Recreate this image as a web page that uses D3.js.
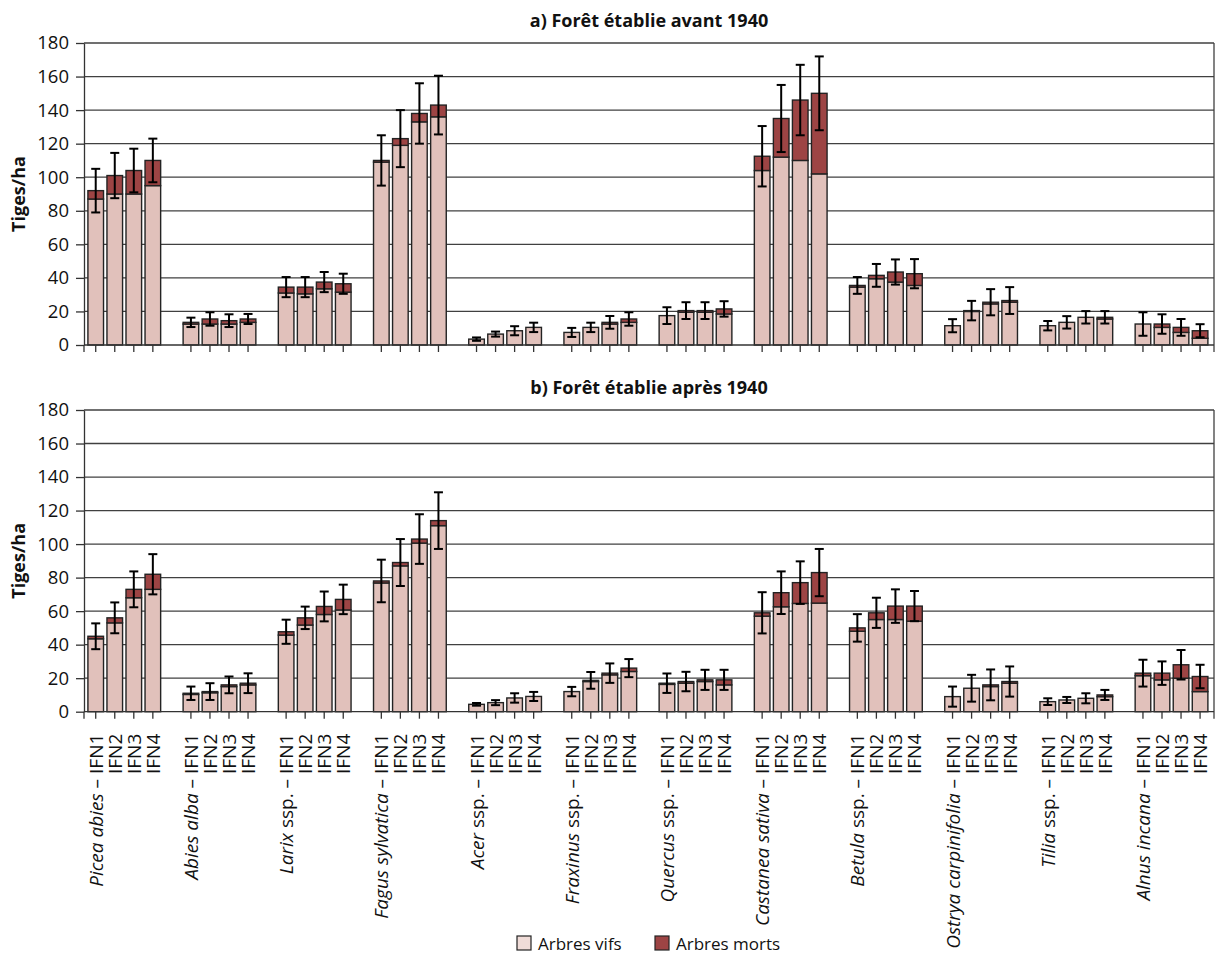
<!DOCTYPE html>
<html>
<head>
<meta charset="utf-8">
<script src="https://cdn.jsdelivr.net/npm/d3@7"></script>
<style>
  body { margin: 0; background: #fff; }
  text { font-family: "Open Sans", "Noto Sans", sans-serif; fill: #111; }
</style>
</head>
<body>
<svg id="chart" width="1222" height="953"></svg>
<script>
// ---- Data -------------------------------------------------------------
const speciesNames = ["Picea abies", "Abies alba", "Larix", "Fagus sylvatica", "Acer", "Fraxinus",
  "Quercus", "Castanea sativa", "Betula", "Ostrya carpinifolia", "Tilia", "Alnus incana"];
const speciesSuffix = ["", "", " ssp.", "", " ssp.", " ssp.", " ssp.", "", " ssp.", "", " ssp.", ""];
const inventories = ["IFN1", "IFN2", "IFN3", "IFN4"];
const yTicks = [0, 20, 40, 60, 80, 100, 120, 140, 160, 180];

const panelTitles = ["a) Forêt établie avant 1940", "b) Forêt établie après 1940"];
const yAxisLabel = "Tiges/ha";
const seriesLabels = ["Arbres vifs", "Arbres morts"];

// Stems per hectare, species by species, IFN1..IFN4
const liveBefore = [
  87, 90, 90, 95,
  12.5, 12.5, 12.5, 13.5,
  31, 30.5, 33.5, 31.5,
  109, 119, 133, 136,
  3.5, 6.5, 8.5, 10.5,
  7.5, 10.5, 12.5, 13.5,
  17.5, 19.5, 19.5, 18.5,
  104, 112, 110, 102,
  34.5, 39.5, 37.5, 35.5,
  11.5, 20, 24.5, 25.5,
  11.5, 13.5, 16.5, 15.5,
  12.5, 10.5, 7.5, 4
];
const deadBefore = [
  5, 11, 14, 15,
  1, 3, 2, 2,
  3.5, 4, 4, 5,
  1, 4, 5, 7,
  0, 0, 0, 0,
  0, 0, 1, 2,
  0, 1, 1, 3,
  8.5, 23, 36, 48,
  1, 2, 6, 7,
  0, 0.5, 1, 1,
  0, 0, 0, 1,
  0, 2, 3, 4.5
];
const errBefore = [
  13, 13.5, 13, 13,
  2.8, 4, 3.8, 3,
  6, 6, 6, 6,
  15, 17, 18, 17.5,
  1, 1.5, 2.7, 2.8,
  2.7, 2.8, 3.8, 4,
  5, 5, 5, 4.6,
  18, 20, 21, 22,
  5, 6.8, 7.5, 8.7,
  3.9, 5.8, 7.8, 8,
  2.8, 3.7, 3.7, 3.7,
  7, 5.8, 5, 3.9
];

const liveAfter = [
  43.5, 53, 68, 73,
  10.3, 11.3, 15, 16,
  45.7, 51.7, 58, 60.7,
  76.8, 87, 100.6, 111,
  4.4, 5.4, 8.2, 9.1,
  12, 18, 22, 24,
  16.3, 17, 18, 16,
  57, 62.6, 64.6, 64.8,
  48, 55, 55, 54,
  9, 14, 15, 17,
  6, 7, 8, 9,
  21.5, 19, 20, 12
];
const deadAfter = [
  1.5, 3, 5, 9,
  0.7, 0.7, 1, 1,
  2, 4.3, 4.8, 6.3,
  1.2, 2, 2.4, 3,
  0, 0, 0, 0,
  0, 0.7, 1, 2,
  0.7, 1, 1, 3,
  2, 8.4, 12.4, 18.2,
  2, 4, 8, 9,
  0, 0, 1, 1,
  0, 0, 0, 1,
  1.5, 4, 8, 9
];
const errAfter = [
  7.7, 9.2, 10.7, 12,
  4, 5, 5, 5.9,
  7.2, 6.7, 8.9, 8.8,
  12.7, 14, 14.8, 16.9,
  0.8, 1.5, 2.8, 2.7,
  2.8, 5, 5.8, 5.4,
  5.8, 5.8, 6, 6,
  12.3, 12.7, 12.7, 14.1,
  8.2, 9, 10, 9,
  6, 8, 9.2, 9,
  2, 1.8, 3, 3,
  8, 7, 8.8, 7
];

// ---- Styling ------------------------------------------------------------
const liveColor = "#e1c1bb";
const deadColor = "#9d4444";
const liveSwatch = "#f0dcd8";
const barStroke = "#232323";
const gridColor = "#404040";

const svg = d3.select("#chart");
const plotLeft = 84, plotRight = 1214;

// One slot per bar, with an empty slot between species
const slotKeys = [];
const barKeys = [];
speciesNames.forEach((s, g) => {
  inventories.forEach((inv, k) => { slotKeys.push(g + "|" + k); barKeys.push(g + "|" + k); });
  if (g < speciesNames.length - 1) slotKeys.push("gap" + g);
});

const x = d3.scaleBand()
  .domain(slotKeys)
  .range([86.2, 1209.6])
  .paddingInner(0.18)
  .paddingOuter(0.09);

function buildRows(live, dead, err) {
  return barKeys.map((key, i) => ({ key, live: live[i], dead: dead[i], err: err[i] }));
}

const stack = d3.stack().keys(["live", "dead"]);

function drawPanel(top, bottom, live, dead, err, title, withLabels) {
  const y = d3.scaleLinear().domain([0, 180]).range([bottom, top]);
  const g = svg.append("g");
  const rows = buildRows(live, dead, err);

  // title
  g.append("text")
    .attr("x", (plotLeft + plotRight) / 2)
    .attr("y", top - 16)
    .attr("text-anchor", "middle")
    .style("font-weight", "bold")
    .style("font-size", "18px")
    .text(title);

  // horizontal grid
  g.append("g").selectAll("line")
    .data(yTicks.filter(d => d > 0))
    .join("line")
    .attr("x1", plotLeft).attr("x2", plotRight)
    .attr("y1", d => y(d)).attr("y2", d => y(d))
    .attr("stroke", gridColor).attr("stroke-width", 1.3);

  // right border
  g.append("line")
    .attr("x1", plotRight).attr("x2", plotRight)
    .attr("y1", y(180)).attr("y2", y(0) + 7)
    .attr("stroke", gridColor).attr("stroke-width", 1.3);

  // y axis
  const yAxis = g.append("g")
    .attr("transform", `translate(${plotLeft},0)`)
    .call(d3.axisLeft(y).tickValues(yTicks).tickSize(8).tickPadding(7).tickSizeOuter(0));
  yAxis.select(".domain").attr("stroke", "#333").attr("stroke-width", 1.3);
  yAxis.selectAll(".tick line").attr("stroke", "#333").attr("stroke-width", 1.3);
  yAxis.selectAll(".tick text")
    .style("font-size", "18.5px")
    .style("font-family", "'Open Sans', sans-serif")
    .attr("fill", "#111");

  // axis title
  g.append("text")
    .attr("transform", `translate(25,${(top + bottom) / 2}) rotate(-90)`)
    .attr("text-anchor", "middle")
    .style("font-weight", "bold")
    .style("font-size", "18px")
    .text(yAxisLabel);

  // stacked bars
  const series = stack(rows);
  const fills = [liveColor, deadColor];
  g.append("g").selectAll("g")
    .data(series)
    .join("g")
    .attr("fill", (d, i) => fills[i])
    .selectAll("rect")
    .data(d => d.filter(p => p[1] - p[0] > 0))
    .join("rect")
    .attr("x", d => x(d.data.key))
    .attr("width", x.bandwidth())
    .attr("y", d => y(d[1]))
    .attr("height", d => y(d[0]) - y(d[1]))
    .attr("stroke", barStroke)
    .attr("stroke-width", 1.4);

  // error bars centred on the stacked total
  const eb = g.append("g").attr("stroke", "#000").attr("stroke-width", 2);
  rows.forEach(r => {
    const cx = x(r.key) + x.bandwidth() / 2;
    const tot = r.live + r.dead;
    const y1 = y(tot + r.err), y2 = y(Math.max(0, tot - r.err));
    eb.append("line").attr("x1", cx).attr("x2", cx).attr("y1", y1).attr("y2", y2);
    eb.append("line").attr("x1", cx - 4.5).attr("x2", cx + 4.5).attr("y1", y1).attr("y2", y1);
    eb.append("line").attr("x1", cx - 4.5).attr("x2", cx + 4.5).attr("y1", y2).attr("y2", y2);
  });

  // category axis
  g.append("line")
    .attr("x1", plotLeft).attr("x2", plotRight)
    .attr("y1", y(0)).attr("y2", y(0))
    .attr("stroke", "#333").attr("stroke-width", 1.3);
  const xAxis = g.append("g")
    .attr("transform", `translate(0,${y(0)})`)
    .call(d3.axisBottom(x).tickValues(barKeys).tickSize(7).tickSizeOuter(0).tickFormat(""));
  xAxis.select(".domain").remove();
  xAxis.selectAll(".tick line").attr("stroke", "#333").attr("stroke-width", 1.3);
  g.append("line")
    .attr("x1", plotLeft).attr("x2", plotLeft)
    .attr("y1", y(0)).attr("y2", y(0) + 7)
    .attr("stroke", "#333").attr("stroke-width", 1.3);

  if (withLabels) {
    const lab = g.append("g");
    barKeys.forEach((key, i) => {
      const gi = Math.floor(i / 4), k = i % 4;
      const cx = x(key) + x.bandwidth() / 2;
      const t = lab.append("text")
        .attr("transform", `translate(${cx + 7},${y(0) + 22}) rotate(-90)`)
        .attr("text-anchor", "end")
        .style("font-size", "19px");
      if (k === 0) {
        t.append("tspan").style("font-style", "italic").text(speciesNames[gi]);
        if (speciesSuffix[gi]) t.append("tspan").text(speciesSuffix[gi]);
        t.append("tspan").text(" \u2013 " + inventories[k]);
      } else {
        t.text(inventories[k]);
      }
    });
  }
}

drawPanel(43, 345, liveBefore, deadBefore, errBefore, panelTitles[0], false);
drawPanel(410, 711.7, liveAfter, deadAfter, errAfter, panelTitles[1], true);

// legend
const legend = svg.append("g").attr("transform", "translate(517,943)");
const legendItems = [
  { label: seriesLabels[0], fill: liveSwatch, dx: 0 },
  { label: seriesLabels[1], fill: deadColor, dx: 138 }
];
legendItems.forEach(it => {
  legend.append("rect")
    .attr("x", it.dx).attr("y", -7).attr("width", 14).attr("height", 14)
    .attr("fill", it.fill).attr("stroke", barStroke).attr("stroke-width", 1.2);
  legend.append("text")
    .attr("x", it.dx + 21).attr("y", 6.5)
    .style("font-size", "17px")
    .text(it.label);
});
</script>
</body>
</html>
